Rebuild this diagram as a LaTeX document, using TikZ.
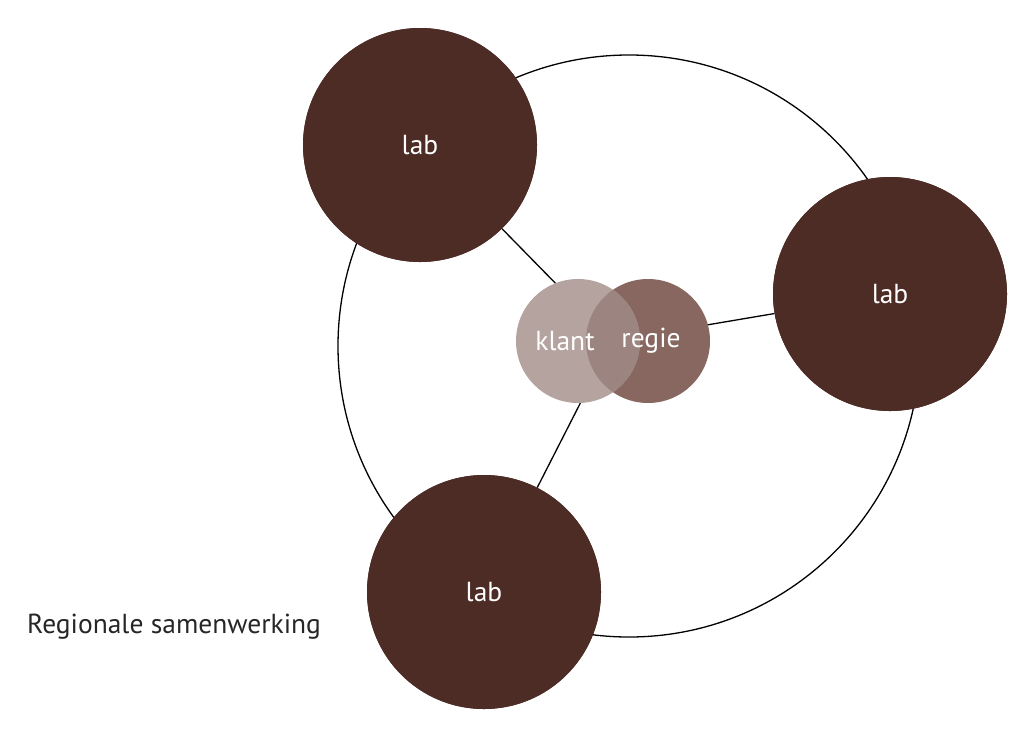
\documentclass[tikz,border=0pt]{standalone}
\usepackage{fontspec}
\setmainfont{PT Sans}
\usepackage{tikz}
\definecolor{labbrown}{HTML}{4D2C26}
\definecolor{klantbg}{HTML}{B5A39F}
\definecolor{regiebg}{HTML}{87675F}
\definecolor{mixbg}{HTML}{9C8580}

\begin{document}
\begin{tikzpicture}[x=1pt, y=-1pt,
  lab/.style={circle, fill=labbrown, minimum size=234pt, inner sep=0pt, text=white, font=\fontsize{27.5}{32}\selectfont},
  core/.style={circle, minimum size=124pt, inner sep=0pt, text=white, font=\fontsize{27.5}{32}\selectfont},
  link/.style={black, line width=1.3pt},
  lbl/.style={font=\fontsize{27.5}{32}\selectfont, text=black!85, anchor=west, inner sep=0pt},
]
\useasboundingbox (0,0) rectangle (1024,745);

% ── Ring ──
\node[circle, draw=black, line width=1.3pt, minimum size=582pt, inner sep=0pt] (ring) at (629,346) {};

% ── Hub between klant and regie ──
\coordinate (hub) at (612,341);

% ── Labs ──
\node[lab] (labA) at (420,145) {};
\node[lab] (labB) at (890,294) {};
\node[lab] (labC) at (484,592) {};

% Spokes from the hub to each lab
\draw[link] (hub) -- (labA);
\draw[link] (hub) -- (labB);
\draw[link] (hub) -- (labC);

% redraw labs on top of the spokes
\node[lab] at (labA) {lab};
\node[lab] at (labB) {lab};
\node[lab] at (labC) {lab};

% ── Klant / regie ──
\node[core, fill=regiebg] (regie) at (648,341) {};
\node[core, fill=klantbg] (klant) at (578,341) {};
\begin{scope}
  \clip (klant.center) circle (62);
  \fill[mixbg] (regie.center) circle (62);
\end{scope}
\node[text=white, font=\fontsize{27.5}{32}\selectfont] at ([xshift=-13pt]klant.center) {klant};
\node[text=white, font=\fontsize{27.5}{32}\selectfont] at ([xshift=3pt]regie.center) {regie};

% ── Caption ──
\node[lbl] (caption) at (27,627) {Regionale samenwerking};

\end{tikzpicture}
\end{document}
